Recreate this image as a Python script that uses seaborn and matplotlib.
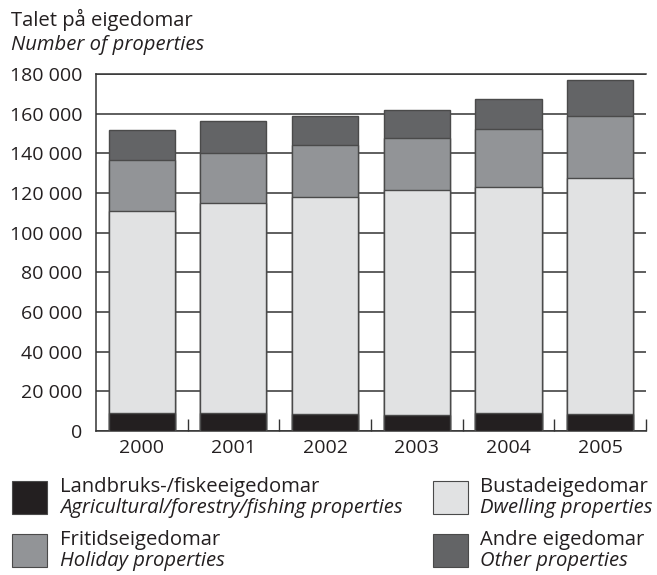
import matplotlib
matplotlib.use("Agg")
import matplotlib.pyplot as plt
from matplotlib.patches import Rectangle
from matplotlib.ticker import FuncFormatter, FixedLocator
import numpy as np
import pandas as pd
import seaborn as sns

years = ["2000", "2001", "2002", "2003", "2004", "2005"]
agricultural = [9100, 8900, 8400, 8300, 8900, 8400]
dwelling = [101900, 106100, 109800, 113400, 114300, 119400]
holiday = [25600, 25400, 26100, 26000, 29000, 31100]
other = [15100, 15900, 14500, 13900, 15200, 18100]

labels_no = ["Landbruks-/fiskeeigedomar", "Bustadeigedomar", "Fritidseigedomar", "Andre eigedomar"]
labels_en = ["Agricultural/forestry/fishing properties", "Dwelling properties",
             "Holiday properties", "Other properties"]
colors = {"agri": "#231f20", "dwell": "#e1e2e3", "hol": "#929497", "oth": "#636466"}

sns.set_theme(style="white")
plt.rcParams["font.family"] = ["Open Sans", "DejaVu Sans"]
TXT = "#231f20"
FS = 14.6
TFS = 14.0

fig = plt.figure(figsize=(6.57, 5.75), dpi=100)
W, H = 657, 575
ax = fig.add_axes([96 / W, 1 - 431 / H, (646 - 96) / W, (431 - 74) / H])

df = pd.DataFrame({"year": years, "agri": agricultural, "dwell": dwelling,
                   "hol": holiday, "oth": other})
df["c1"] = df["agri"]
df["c2"] = df["c1"] + df["dwell"]
df["c3"] = df["c2"] + df["hol"]
df["c4"] = df["c3"] + df["oth"]

for col, key in [("c4", "oth"), ("c3", "hol"), ("c2", "dwell"), ("c1", "agri")]:
    sns.barplot(data=df, x="year", y=col, order=years, color=colors[key],
                saturation=1, edgecolor="#4a4a4a", linewidth=1.0, width=0.72, ax=ax, zorder=3)

ax.set_ylim(0, 180000)
ax.set_xlim(-0.5, 5.5)
ax.set_yticks(np.arange(0, 180001, 20000))
ax.yaxis.set_major_formatter(FuncFormatter(lambda v, p: f"{v:,.0f}".replace(",", " ")))
ax.set_xlabel("")
ax.set_ylabel("")
ax.yaxis.grid(True, color="#333333", linewidth=1.1, zorder=0)
ax.xaxis.grid(False)
ax.set_axisbelow(True)

ax.spines["right"].set_visible(False)
for s in ["left", "bottom", "top"]:
    ax.spines[s].set_visible(True)
    ax.spines[s].set_color("#333333")
    ax.spines[s].set_linewidth(1.1)

ax.tick_params(axis="both", which="major", length=0, labelsize=TFS, colors=TXT)
ax.tick_params(axis="y", pad=10)
ax.tick_params(axis="x", pad=6)
ax.xaxis.set_minor_locator(FixedLocator(np.arange(0.5, 5.6, 1.0)))
ax.tick_params(axis="x", which="minor", direction="in", length=9, width=1.0, color="#333333", bottom=True)

fig.text(11 / W, 1 - 20 / H, "Talet på eigedomar", fontsize=FS, color=TXT, va="center", ha="left")
fig.text(11 / W, 1 - 45 / H, "Number of properties", fontsize=FS, color=TXT, va="center", ha="left",
         style="italic")

# legend
items = [("agri", 0, 0), ("dwell", 1, 0), ("hol", 0, 1), ("oth", 1, 1)]
patch_x = [12, 433]
text_x = [60, 480]
patch_y = [481, 534]
for i, (key, cx, cy) in enumerate(items):
    x0 = patch_x[cx]
    y0 = patch_y[cy]
    fig.add_artist(Rectangle((x0 / W, 1 - (y0 + 33) / H), 35 / W, 33 / H, transform=fig.transFigure,
                             facecolor=colors[key], edgecolor="#4a4a4a", linewidth=0.8))
    fig.text(text_x[cx] / W, 1 - (y0 + 6) / H, labels_no[i], fontsize=FS, color=TXT, va="center", ha="left")
    fig.text(text_x[cx] / W, 1 - (y0 + 27) / H, labels_en[i], fontsize=FS, color=TXT, va="center", ha="left",
             style="italic")

fig.savefig("out.png", dpi=100)
